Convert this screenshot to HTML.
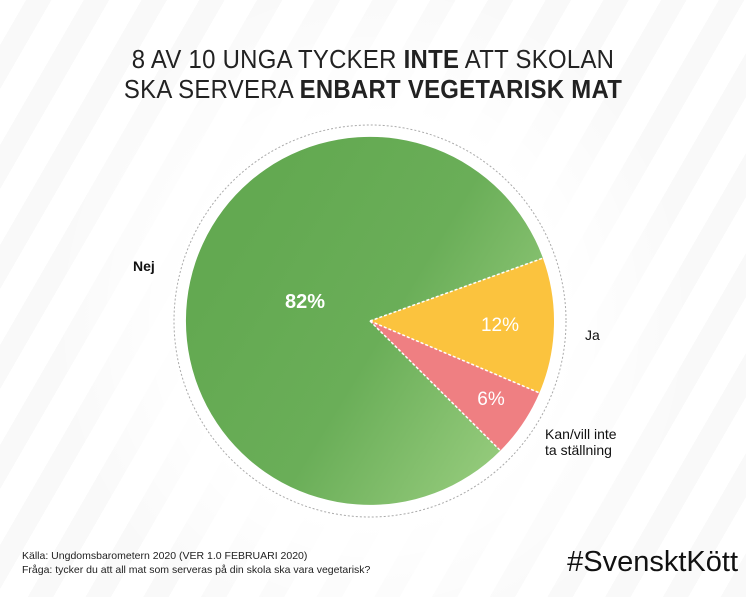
<!DOCTYPE html>
<html><head><meta charset="utf-8"><style>
body{margin:0;width:746px;height:597px;overflow:hidden;position:relative;font-family:"Liberation Sans",sans-serif;
background:#fff;}
.bg{position:absolute;inset:0;background:repeating-linear-gradient(-60deg,rgba(0,0,0,0.022) 0 22px,rgba(0,0,0,0) 22px 50px);}
.fade{position:absolute;inset:0;background:radial-gradient(ellipse 320px 340px at 373px 320px,#fff 60%,rgba(255,255,255,0) 100%);}
.t{position:absolute;left:0;width:746px;text-align:center;font-size:26px;color:#222;letter-spacing:0.3px;transform:scaleX(0.92);}
.l{position:absolute;font-size:14px;color:#111;}
</style></head><body>
<div class="bg"></div><div class="fade"></div>
<div class="t" style="top:44px">8 AV 10 UNGA TYCKER <b>INTE</b> ATT SKOLAN</div>
<div class="t" style="top:74px">SKA SERVERA <b>ENBART VEGETARISK MAT</b></div>
<svg width="746" height="597" style="position:absolute;left:0;top:0">
<defs><linearGradient id="g" x1="0.2" y1="0.2" x2="1" y2="0.7"><stop offset="0" stop-color="#63a951"/><stop offset="0.5" stop-color="#6aae58"/><stop offset="1" stop-color="#95cb7c"/></linearGradient></defs>
<circle cx="370" cy="321" r="196" fill="none" stroke="#aaa" stroke-width="1" stroke-dasharray="2,2"/>
<path d="M370,321 L542.9,258.1 A184,184 0 1,0 500.4,450.6 Z" fill="url(#g)"/>
<path d="M370,321 L542.9,258.1 A184,184 0 0,1 539.4,392.9 Z" fill="#fbc33e"/>
<path d="M370,321 L539.4,392.9 A184,184 0 0,1 500.4,450.6 Z" fill="#ef7f82"/>
<g stroke="#fff" stroke-width="1.5" stroke-dasharray="3,2"><line x1="370" y1="321" x2="542.9" y2="258.1"/><line x1="370" y1="321" x2="539.4" y2="392.9"/><line x1="370" y1="321" x2="500.4" y2="450.6"/></g>
<text x="305" y="308" fill="#fff" font-size="20" font-weight="bold" text-anchor="middle" font-family="Liberation Sans">82%</text>
<text x="500" y="331" fill="#fff" font-size="19" text-anchor="middle" font-family="Liberation Sans">12%</text>
<text x="491" y="405" fill="#fff" font-size="19" text-anchor="middle" font-family="Liberation Sans">6%</text>
</svg>
<div class="l" style="left:133px;top:258px;font-weight:bold">Nej</div>
<div class="l" style="left:585px;top:327px">Ja</div>
<div class="l" style="left:545px;top:426px;line-height:16px">Kan/vill inte<br>ta ställning</div>
<div style="position:absolute;left:22px;top:549px;font-size:10.5px;color:#222;line-height:14px">Källa: Ungdomsbarometern 2020 (VER 1.0 FEBRUARI 2020)<br>Fråga: tycker du att all mat som serveras på din skola ska vara vegetarisk?</div>
<div style="position:absolute;right:8px;top:546px;font-size:29px;color:#111">#SvensktKött</div>
</body></html>
